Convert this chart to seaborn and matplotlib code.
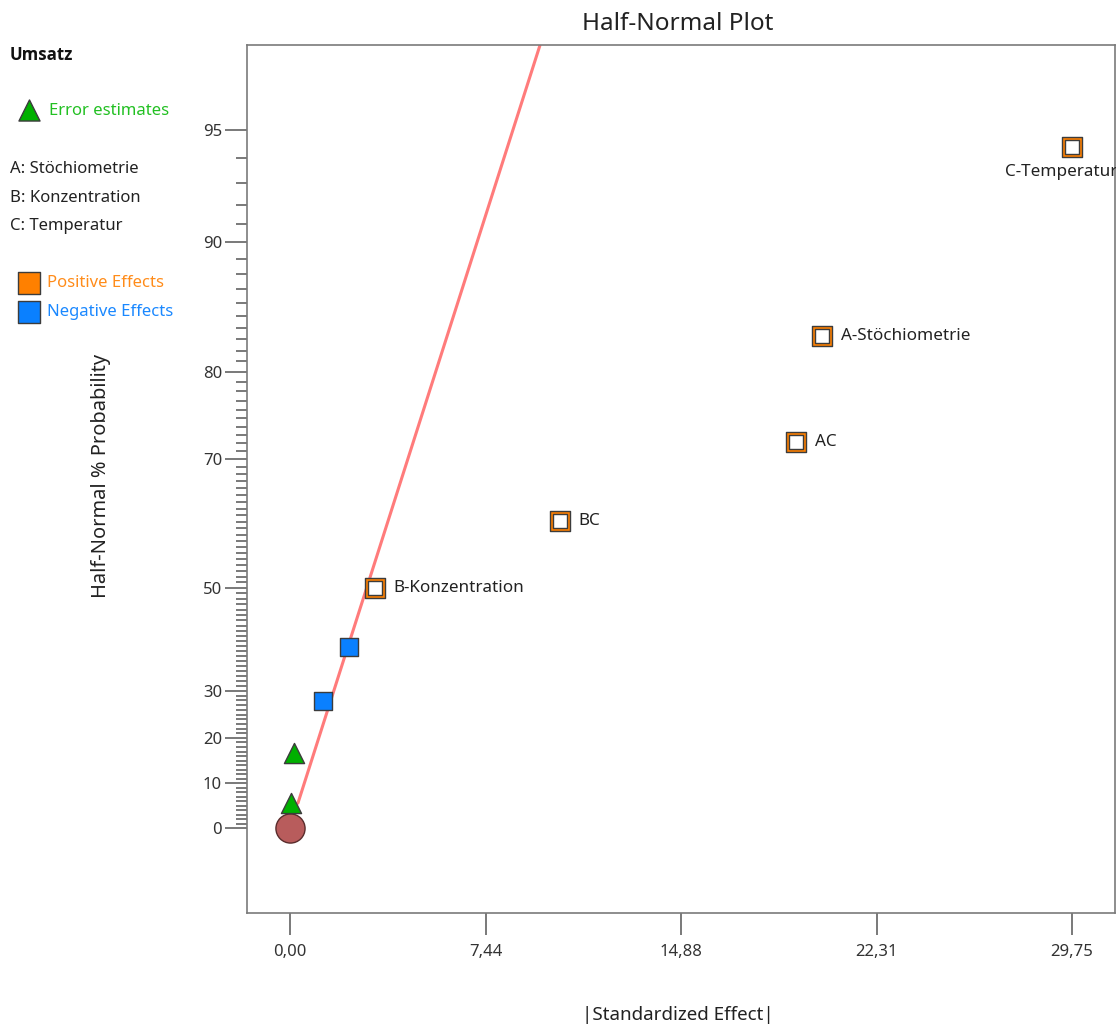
import math

import numpy as np
import pandas as pd
import matplotlib
matplotlib.use("Agg")
import matplotlib.pyplot as plt
from matplotlib.ticker import FixedLocator, FixedFormatter
import seaborn as sns

# ---------------------------------------------------------------------------
# Data: half-normal plot of effects on "Umsatz"
# ---------------------------------------------------------------------------
effect_labels = ["", "", "", "", "B-Konzentration", "BC", "AC",
                 "A-Stöchiometrie", "C-Temperatur"]
abs_effects = [0.04, 0.16, 1.26, 2.24, 3.23, 10.27, 19.25, 20.24, 29.75]
probabilities = [5.56, 16.67, 27.78, 38.89, 50.0, 61.11, 72.22, 83.33, 94.44]
effect_kind = ["Error", "Error", "Negative", "Negative", "Positive",
               "Positive", "Positive", "Positive", "Positive"]

factor_names = ["A: Stöchiometrie", "B: Konzentration", "C: Temperatur"]
response_name = "Umsatz"

y_major_ticks = [0, 10, 20, 30, 50, 70, 80, 90, 95]
y_minor_ticks = [p for p in range(1, 95) if p not in y_major_ticks]
x_tick_max = 29.75
x_tick_count = 5

# slope of the reference line (|effect| per half-normal quantile)
line_slope = 4.325

# ---------------------------------------------------------------------------
# Colours
# ---------------------------------------------------------------------------
ORANGE = "#ff8000"
BLUE = "#0a80ff"
GREEN = "#00b000"
BROWN = "#b85c5c"
EDGE = "#3c3c3c"
LINE = "#ff7b7b"
AXIS = "#7a7a7a"
TICK = "#555555"


# ---------------------------------------------------------------------------
# Half-normal probability scale
# ---------------------------------------------------------------------------
_erf = np.vectorize(math.erf, otypes=[float])


def _erfinv(y):
    y = np.clip(np.asarray(y, dtype=float), -0.99999999, 0.99999999)
    a = 0.147
    ln = np.log(1.0 - y * y)
    t = 2.0 / (np.pi * a) + ln / 2.0
    x = np.sign(y) * np.sqrt(np.sqrt(t * t - ln / a) - t)
    for _ in range(3):
        x = x - (_erf(x) - y) / (2.0 / np.sqrt(np.pi) * np.exp(-x * x))
    return x


def pct_to_z(p):
    return np.sqrt(2.0) * _erfinv(np.asarray(p, dtype=float) / 100.0)


def z_to_pct(z):
    return 100.0 * _erf(np.asarray(z, dtype=float) / np.sqrt(2.0))


df = pd.DataFrame({
    "effect": abs_effects,
    "prob": probabilities,
    "kind": effect_kind,
    "label": effect_labels,
})

# ---------------------------------------------------------------------------
# Figure
# ---------------------------------------------------------------------------
sns.set_theme(style="white")
plt.rcParams["font.family"] = ["Noto Sans", "DejaVu Sans"]
plt.rcParams["xtick.bottom"] = True
plt.rcParams["ytick.left"] = True

W, H = 1116, 1028
fig = plt.figure(figsize=(W / 100, H / 100), dpi=100)
fig.patch.set_facecolor("white")

ax_l, ax_r, ax_t, ax_b = 247, 1115, 45, 913
ax = fig.add_axes([ax_l / W, 1 - ax_b / H, (ax_r - ax_l) / W, (ax_b - ax_t) / H])
ax.set_facecolor("white")
ax.set_yscale("function", functions=(pct_to_z, z_to_pct))

# reference line through the origin
z_line = np.linspace(pct_to_z(probabilities[0]), 2.1994, 60)
line_df = pd.DataFrame({"effect": line_slope * z_line, "prob": z_to_pct(z_line)})
sns.lineplot(data=line_df, x="effect", y="prob", ax=ax, color=LINE,
             linewidth=2.2, sort=False, estimator=None, zorder=2)

# origin marker
sns.scatterplot(x=[0.0], y=[0.0], ax=ax, marker="o", s=440, color=BROWN,
                edgecolor="#5a2c2c", linewidth=1.0, zorder=3)

err = df[df["kind"] == "Error"]
neg = df[df["kind"] == "Negative"]
pos = df[df["kind"] == "Positive"]

sns.scatterplot(data=err, x="effect", y="prob", ax=ax, marker="^", s=210,
                color=GREEN, edgecolor=EDGE, linewidth=1.0, zorder=4)
sns.scatterplot(data=neg, x="effect", y="prob", ax=ax, marker="s", s=150,
                color=BLUE, edgecolor=EDGE, linewidth=1.0, zorder=4)
sns.scatterplot(data=pos, x="effect", y="prob", ax=ax, marker="s", s=210,
                color=ORANGE, edgecolor=EDGE, linewidth=1.0, zorder=4)
sns.scatterplot(data=pos, x="effect", y="prob", ax=ax, marker="s", s=88,
                color="white", edgecolor=EDGE, linewidth=1.0, zorder=5)

# effect labels
for _, row in df[df["label"] != ""].iterrows():
    if row["effect"] >= 29:
        ax.annotate(row["label"], (row["effect"], row["prob"]),
                    xytext=(-7.5, -18), textcoords="offset points",
                    ha="center", va="center", fontsize=12.3, color="#222222",
                    annotation_clip=False)
    else:
        ax.annotate(row["label"], (row["effect"], row["prob"]),
                    xytext=(13.5, 0), textcoords="offset points",
                    ha="left", va="center", fontsize=12.3, color="#222222")

# axes limits
ax.set_xlim(-1.636, 31.385)
ax.set_ylim(float(z_to_pct(-0.2388)), float(z_to_pct(2.1994)))

# ticks
x_ticks = np.linspace(0, x_tick_max, x_tick_count)
ax.xaxis.set_major_locator(FixedLocator(x_ticks))
ax.xaxis.set_major_formatter(FixedFormatter([f"{v:.2f}".replace(".", ",") for v in x_ticks]))
ax.yaxis.set_major_locator(FixedLocator(y_major_ticks))
ax.yaxis.set_major_formatter(FixedFormatter([str(v) for v in y_major_ticks]))
ax.yaxis.set_minor_locator(FixedLocator(y_minor_ticks))

ax.tick_params(axis="both", which="major", direction="out", length=16,
               width=1.1, color=TICK, labelsize=12, labelcolor="#333333",
               left=True, bottom=True)
ax.tick_params(axis="y", which="major", pad=2)
ax.tick_params(axis="x", which="major", pad=6)
ax.tick_params(axis="y", which="minor", direction="out", length=8,
               width=1.1, color=TICK, left=True)
ax.tick_params(axis="x", which="minor", bottom=False)

for sp in ax.spines.values():
    sp.set_color(AXIS)
    sp.set_linewidth(1.2)
    sp.set_visible(True)

ax.set_xlabel("|Standardized Effect|", fontsize=13.5, color="#222222")
ax.xaxis.set_label_coords((678 - ax_l) / (ax_r - ax_l), -(1015 - ax_b) / (ax_b - ax_t))
ax.xaxis.label.set_va("center")
ax.set_ylabel("Half-Normal % Probability", fontsize=14.4, color="#222222")
ax.yaxis.set_label_coords((101 - ax_l) / (ax_r - ax_l), (ax_b - 476) / (ax_b - ax_t))
ax.yaxis.label.set_va("center")

fig.text(678 / W, 1 - 24 / H, "Half-Normal Plot", ha="center", va="center",
         fontsize=17.5, color="#222222")

# ---------------------------------------------------------------------------
# Side legend (pixel coordinates)
# ---------------------------------------------------------------------------
lax = fig.add_axes([0, 0, 1, 1], zorder=5)
lax.set_xlim(0, W)
lax.set_ylim(H, 0)
lax.axis("off")
lax.patch.set_alpha(0)

lax.text(10, 55, response_name, fontsize=12.2, fontweight="bold",
         family=["Open Sans", "Liberation Sans", "DejaVu Sans"],
         color="#111111", va="center", ha="left")
lax.scatter([29], [110], marker="^", s=230, color=GREEN, edgecolor=EDGE,
            linewidth=1.0)
lax.text(49, 111, "Error estimates", fontsize=12, color="#22c022",
         va="center", ha="left")
for i, name in enumerate(factor_names):
    lax.text(10, 169 + i * 28.5, name, fontsize=12, color="#222222",
             va="center", ha="left")
lax.scatter([29], [283], marker="s", s=260, color=ORANGE, edgecolor=EDGE,
            linewidth=1.0)
lax.text(47, 283, "Positive Effects", fontsize=12, color="#ff8c1a",
         va="center", ha="left")
lax.scatter([29], [312], marker="s", s=260, color=BLUE, edgecolor=EDGE,
            linewidth=1.0)
lax.text(47, 312, "Negative Effects", fontsize=12, color="#1a88ff",
         va="center", ha="left")

fig.savefig("out.png", dpi=100, facecolor="white")
